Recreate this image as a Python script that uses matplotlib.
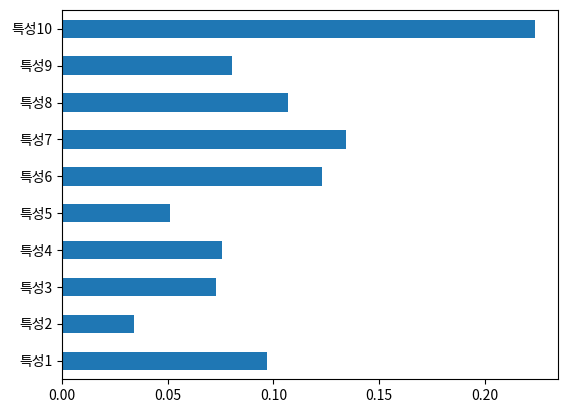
import pandas as pd
import matplotlib.pyplot as plt

plt.rcParams['font.family'] = ['Noto Sans CJK KR', 'DejaVu Sans']
plt.rcParams['axes.unicode_minus'] = False

features = ['특성1', '특성2', '특성3', '특성4', '특성5', '특성6', '특성7', '특성8', '특성9', '특성10']
importance = [0.0967, 0.0338, 0.0726, 0.0758, 0.0511, 0.1228, 0.1341, 0.1070, 0.0804, 0.2237]

s = pd.Series(importance, index=features)

fig, ax = plt.subplots(figsize=(5.68, 4.13), dpi=100)
s.plot(kind='barh', ax=ax, color='#1f77b4')
fig.subplots_adjust(left=0.1097, right=0.983, top=0.975, bottom=0.0816)
plt.savefig('out.png')
